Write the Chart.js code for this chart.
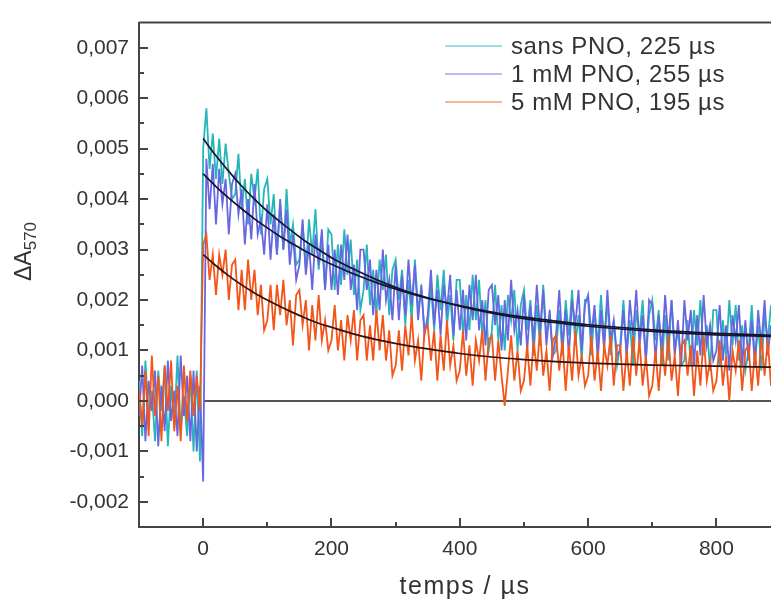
<!DOCTYPE html>
<html>
<head>
<meta charset="utf-8">
<script src="https://cdn.jsdelivr.net/npm/chart.js@4.4.0/dist/chart.umd.min.js"></script>
<style>
  html, body { margin: 0; padding: 0; background: #fff; }
  canvas { display: block; }
</style>
</head>
<body>
<canvas id="declinChart" width="771" height="601" style="width:771px;height:601px"></canvas>
<script>
// grille d'échantillonnage (µs)
const tStart = -100;
const tStep = 5;

// traces mesurées, ΔA570 x 10^4, de -100 à 885 µs
const sansPNO = [
  4, -7, 8, -3, 2, -8, 6, -2, 7, -9, 3, -5, 9, -6, 1, -7, 5, -10, 6, -12,
  50, 58, 46, 53, 44, 52, 43, 51, 45, 40,
  41, 49, 38, 44, 35, 45, 40, 46, 33, 42,
  44, 35, 41, 29, 39, 30, 42, 31, 35, 27,
  28, 35, 26, 36, 29, 38, 26, 32, 22, 34,
  33, 22, 31, 23, 34, 25, 32, 21, 28, 18,
  22, 31, 19, 26, 17, 28, 22, 29, 17, 26,
  28, 20, 26, 15, 24, 16, 28, 18, 22, 14,
  15, 23, 14, 25, 18, 26, 15, 21, 12, 24,
  24, 13, 21, 14, 25, 16, 24, 13, 20, 10,
  14, 23, 12, 19, 10, 21, 16, 22, 10, 19,
  22, 14, 20, 9, 19, 11, 23, 13, 17, 9,
  10, 18, 9, 20, 13, 22, 11, 17, 8, 20,
  20, 9, 18, 11, 21, 12, 20, 9, 16, 7,
  11, 20, 9, 16, 7, 18, 13, 20, 8, 17,
  20, 12, 18, 7, 17, 8, 20, 10, 14, 7,
  8, 16, 7, 18, 11, 20, 9, 15, 6, 18,
  18, 7, 16, 9, 20, 11, 19, 8, 15, 6,
  10, 19, 8, 15, 6, 17, 12, 19
];
const pno1mM = [
  -3, 7, -8, 4, -2, 6, -9, 3, -6, 8, -4, 2, -7, 9, -3, 5, -8, 6, -10, 3,
  -16, 48, 38, 47, 35, 46, 39, 44, 33, 43,
  45, 37, 42, 31, 40, 32, 43, 33, 36, 29,
  39, 28, 37, 29, 40, 30, 38, 27, 33, 24,
  27, 36, 25, 31, 22, 33, 27, 34, 22, 31,
  22, 30, 21, 31, 24, 33, 22, 27, 18, 30,
  30, 22, 28, 17, 26, 18, 30, 20, 24, 16,
  27, 16, 25, 17, 28, 19, 27, 16, 23, 13,
  17, 26, 15, 22, 13, 23, 18, 25, 13, 22,
  14, 22, 12, 23, 16, 25, 14, 20, 11, 22,
  23, 15, 21, 10, 20, 12, 24, 14, 18, 11,
  21, 10, 19, 12, 23, 14, 22, 11, 18, 9,
  13, 22, 11, 18, 9, 20, 15, 22, 10, 19,
  21, 13, 19, 8, 18, 10, 22, 12, 16, 9,
  10, 18, 9, 20, 13, 22, 11, 17, 8, 20,
  19, 8, 17, 10, 21, 12, 20, 9, 16, 7,
  20, 12, 18, 7, 17, 9, 21, 11, 15, 8,
  10, 19, 8, 15, 6, 17, 12, 19, 7, 16,
  8, 16, 7, 18, 11, 20, 9, 15
];
const pno5mM = [
  2, -5, 6, -7, 9, -3, 5, -8, 7, -2, 8, -6, 3, -8, 7, -4, 6, -3, 5, -2,
  31, 33, 24, 29, 21, 29, 25, 30, 20, 27,
  28, 18, 26, 18, 28, 20, 26, 17, 23, 14,
  16, 23, 14, 23, 17, 24, 15, 20, 11, 21,
  22, 15, 20, 10, 19, 12, 21, 12, 16, 10,
  12, 19, 10, 16, 8, 17, 12, 18, 8, 16,
  17, 8, 15, 8, 18, 10, 17, 8, 14, 5,
  7, 14, 6, 15, 9, 17, 8, 12, 4, 14,
  15, 8, 14, 4, 13, 6, 16, 7, 11, 4,
  6, 14, 5, 11, 3, 12, 8, 14, 4, 12,
  13, 4, 12, 5, -1, 6, 13, 4, 10, 2,
  4, 11, 3, 12, 6, 14, 5, 10, 2, 12,
  13, 6, 12, 2, 11, 4, 14, 5, 9, 3,
  5, 13, 4, 10, 2, 11, 7, 13, 3, 11,
  11, 2, 10, 3, 13, 5, 12, 3, 9, 1,
  3, 10, 2, 11, 5, 13, 4, 9, 1, 11,
  12, 5, 11, 1, 10, 3, 13, 4, 8, 2,
  4, 12, 3, 9, 0, 10, 6, 12, 2, 10,
  11, 2, 10, 3, 13, 5, 12, 3
];

// ajustements monoexponentiels, x 10^4
const fitTimes = [0, 20, 40, 60, 80, 100, 120, 140, 160, 180, 200, 240, 280, 320, 360, 400, 450, 500, 550, 600, 700, 800, 885];
const fitSans = [52, 48.6, 45.5, 42.6, 40.0, 37.6, 35.5, 33.5, 31.6, 30.0, 28.4, 25.8, 23.5, 21.6, 20.1, 18.8, 17.4, 16.3, 15.5, 14.8, 13.8, 13.1, 12.8];
const fit1mM = [45, 42.5, 40.2, 38.1, 36.1, 34.3, 32.6, 31.1, 29.6, 28.3, 27.1, 24.9, 23.0, 21.4, 20.0, 18.9, 17.6, 16.6, 15.8, 15.1, 14.1, 13.4, 13.0];
const fit5mM = [29, 26.8, 24.8, 23.0, 21.4, 20.0, 18.7, 17.5, 16.4, 15.4, 14.6, 13.1, 11.9, 10.9, 10.1, 9.4, 8.7, 8.2, 7.8, 7.5, 7.1, 6.9, 6.7];

const legendLabels = ['sans PNO, 225 µs', '1 mM PNO, 255 µs', '5 mM PNO, 195 µs'];
const xTicks = [0, 200, 400, 600, 800];
const xMinorTicks = [100, 300, 500, 700];
const yTicks = [-0.002, -0.001, 0, 0.001, 0.002, 0.003, 0.004, 0.005, 0.006, 0.007];
const yMinorTicks = [-0.0015, -0.0005, 0.0005, 0.0015, 0.0025, 0.0035, 0.0045, 0.0055, 0.0065];

const colTeal = 'rgb(38, 182, 186)';
const colBleu = 'rgb(104, 102, 226)';
const colOrange = 'rgb(242, 86, 26)';

function trace(vals) {
    return vals.map((v, i) => ({ x: tStart + i * tStep, y: v * 1e-4 }));
}
function fit(vals) {
    return vals.map((v, i) => ({ x: fitTimes[i], y: v * 1e-4 }));
}

// cadre du haut, graduations vers l'intérieur, titres et légende
const decor = {
    id: 'decor',
    afterDraw(chart) {
        const { ctx, chartArea: a, scales: { x, y } } = chart;
        ctx.save();
        ctx.strokeStyle = '#444';
        ctx.lineWidth = 2;
        ctx.beginPath();
        ctx.moveTo(a.left, a.top);
        ctx.lineTo(a.right, a.top);
        ctx.stroke();

        ctx.beginPath();
        yTicks.forEach(v => { const p = Math.round(y.getPixelForValue(v)); ctx.moveTo(a.left, p); ctx.lineTo(a.left + 9, p); });
        yMinorTicks.forEach(v => { const p = Math.round(y.getPixelForValue(v)); ctx.moveTo(a.left, p); ctx.lineTo(a.left + 5, p); });
        xTicks.forEach(v => { const p = Math.round(x.getPixelForValue(v)); ctx.moveTo(p, a.bottom); ctx.lineTo(p, a.bottom - 9); });
        xMinorTicks.forEach(v => { const p = Math.round(x.getPixelForValue(v)); ctx.moveTo(p, a.bottom); ctx.lineTo(p, a.bottom - 5); });
        ctx.stroke();

        ctx.fillStyle = '#333';
        // titre axe x
        ctx.font = '25px "Liberation Sans", Arial, sans-serif';
        if ('letterSpacing' in ctx) ctx.letterSpacing = '1.5px';
        ctx.textAlign = 'center';
        ctx.textBaseline = 'middle';
        ctx.fillText('temps / µs', 465, 587);

        // titre axe y avec indice
        if ('letterSpacing' in ctx) ctx.letterSpacing = '0px';
        ctx.save();
        ctx.translate(31, 281);
        ctx.rotate(-Math.PI / 2);
        ctx.textAlign = 'left';
        ctx.textBaseline = 'alphabetic';
        ctx.font = '23px "Liberation Sans", Arial, sans-serif';
        ctx.fillText('ΔA', 0, 0);
        const w = ctx.measureText('ΔA').width;
        ctx.font = '17px "Liberation Sans", Arial, sans-serif';
        ctx.fillText('570', w, 5);
        ctx.restore();

        // légende
        const cols = [colTeal, colBleu, colOrange];
        ctx.font = '24px "Liberation Sans", Arial, sans-serif';
        if ('letterSpacing' in ctx) ctx.letterSpacing = '0.6px';
        ctx.textAlign = 'left';
        ctx.textBaseline = 'middle';
        legendLabels.forEach((lab, i) => {
            const yy = 46 + i * 28;
            ctx.globalAlpha = 0.6;
            ctx.strokeStyle = cols[i];
            ctx.lineWidth = 1.5;
            ctx.beginPath();
            ctx.moveTo(445, yy);
            ctx.lineTo(502, yy);
            ctx.stroke();
            ctx.globalAlpha = 1;
            ctx.fillStyle = '#333';
            ctx.fillText(lab, 511, yy + 1);
        });
        ctx.restore();
    }
};

const tickFont = { family: '"Liberation Sans", Arial, sans-serif', size: 21 };

new Chart(document.getElementById('declinChart').getContext('2d'), {
    type: 'line',
    data: {
        datasets: [
            { data: fit(fitSans), borderColor: '#14142a', borderWidth: 1.7, cubicInterpolationMode: 'monotone', order: 0 },
            { data: fit(fit1mM), borderColor: '#14142a', borderWidth: 1.7, cubicInterpolationMode: 'monotone', order: 0 },
            { data: fit(fit5mM), borderColor: '#2a1410', borderWidth: 1.7, cubicInterpolationMode: 'monotone', order: 0 },
            { label: legendLabels[0], data: trace(sansPNO), borderColor: colTeal, borderWidth: 1.8, order: 3 },
            { label: legendLabels[1], data: trace(pno1mM), borderColor: colBleu, borderWidth: 1.8, order: 2 },
            { label: legendLabels[2], data: trace(pno5mM), borderColor: colOrange, borderWidth: 1.8, order: 1 },
            { data: [{ x: 0, y: 0 }, { x: 885, y: 0 }], borderColor: '#555', borderWidth: 2, order: 4 }
        ]
    },
    options: {
        responsive: false,
        animation: false,
        devicePixelRatio: 1,
        layout: { padding: { top: 12, right: 0, left: 0, bottom: 0 } },
        elements: { point: { radius: 0 }, line: { tension: 0 } },
        scales: {
            x: {
                type: 'linear',
                min: -100,
                max: 885,
                afterBuildTicks: s => { s.ticks = xTicks.map(v => ({ value: v })); },
                afterFit: s => { s.height = 74; },
                grid: { display: false, drawTicks: false },
                border: { display: true, color: '#444', width: 2 },
                ticks: { font: tickFont, color: '#333', padding: 10, maxRotation: 0, callback: v => String(v) }
            },
            y: {
                min: -0.0025,
                max: 0.0075,
                afterBuildTicks: s => { s.ticks = yTicks.map(v => ({ value: v })); },
                afterFit: s => { s.width = 139; },
                grid: { display: false, drawTicks: false },
                border: { display: true, color: '#444', width: 2 },
                ticks: { font: tickFont, color: '#333', padding: 10, callback: v => v.toFixed(3).replace('.', ',') }
            }
        },
        plugins: {
            legend: { display: false },
            tooltip: { enabled: false }
        }
    },
    plugins: [decor]
});
</script>
</body>
</html>
